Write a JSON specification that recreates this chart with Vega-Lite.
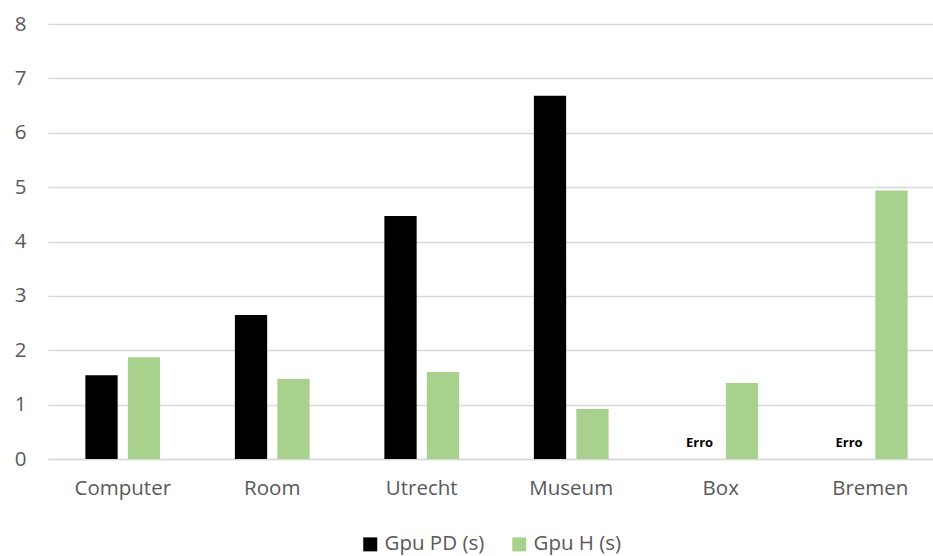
{
  "$schema": "https://vega.github.io/schema/vega-lite/v6.json",
  "width": 897,
  "height": 435,
  "autosize": {"type": "none"},
  "padding": {"left": 48, "top": 24, "right": 0, "bottom": 97},
  "background": "white",
  "config": {
    "view": {"stroke": null},
    "font": "Open Sans"
  },
  "data": {
    "values": [
      {"cat": "Computer", "series": "Gpu PD (s)", "value": 1.54, "label": null},
      {"cat": "Computer", "series": "Gpu H (s)", "value": 1.87, "label": null},
      {"cat": "Room", "series": "Gpu PD (s)", "value": 2.65, "label": null},
      {"cat": "Room", "series": "Gpu H (s)", "value": 1.47, "label": null},
      {"cat": "Utrecht", "series": "Gpu PD (s)", "value": 4.47, "label": null},
      {"cat": "Utrecht", "series": "Gpu H (s)", "value": 1.6, "label": null},
      {"cat": "Museum", "series": "Gpu PD (s)", "value": 6.68, "label": null},
      {"cat": "Museum", "series": "Gpu H (s)", "value": 0.92, "label": null},
      {"cat": "Box", "series": "Gpu PD (s)", "value": null, "label": "Erro"},
      {"cat": "Box", "series": "Gpu H (s)", "value": 1.4, "label": null},
      {"cat": "Bremen", "series": "Gpu PD (s)", "value": null, "label": "Erro"},
      {"cat": "Bremen", "series": "Gpu H (s)", "value": 4.94, "label": null}
    ]
  },
  "encoding": {
    "x": {
      "field": "cat",
      "type": "nominal",
      "sort": null,
      "scale": {"paddingInner": 0.5, "paddingOuter": 0.25},
      "axis": {
        "title": null,
        "labelAngle": 0,
        "labelFontSize": 20.5,
        "labelColor": "#595959",
        "labelPadding": 19,
        "ticks": false,
        "domainColor": "#D9D9D9",
        "domainWidth": 1.5
      }
    },
    "xOffset": {
      "field": "series",
      "type": "nominal",
      "sort": ["Gpu PD (s)", "Gpu H (s)"],
      "scale": {"paddingInner": 0.24, "paddingOuter": 0}
    }
  },
  "layer": [
    {
      "mark": {"type": "bar"},
      "encoding": {
        "y": {
          "field": "value",
          "type": "quantitative",
          "scale": {"domain": [0, 8]},
          "axis": {
            "title": null,
            "values": [0, 1, 2, 3, 4, 5, 6, 7, 8],
            "labelFontSize": 20.5,
            "labelColor": "#595959",
            "labelPadding": 22,
            "ticks": false,
            "domain": false,
            "gridColor": "#D9D9D9",
            "gridWidth": 1.5
          }
        },
        "color": {
          "field": "series",
          "type": "nominal",
          "scale": {"domain": ["Gpu PD (s)", "Gpu H (s)"], "range": ["#000000", "#A9D18E"]},
          "legend": {
            "title": null,
            "orient": "none",
            "direction": "horizontal",
            "legendX": 312,
            "legendY": 510,
            "symbolType": "square",
            "symbolSize": 196,
            "symbolStrokeWidth": 0,
            "labelFontSize": 20.5,
            "labelColor": "#595959",
            "columnPadding": 24,
            "labelOffset": 4
          }
        }
      }
    },
    {
      "transform": [{"filter": "datum.label != null"}],
      "mark": {"type": "text", "fontWeight": "bold", "fontSize": 13, "color": "#000000", "baseline": "middle", "dy": -16},
      "encoding": {
        "y": {"datum": 0, "type": "quantitative"},
        "text": {"field": "label"}
      }
    }
  ]
}
